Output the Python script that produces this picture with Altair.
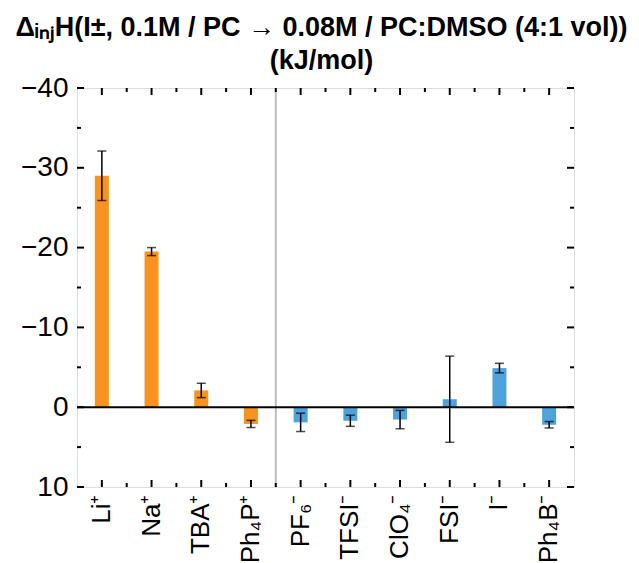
import altair as alt
import pandas as pd

ions = ["Li⁺", "Na⁺", "TBA⁺", "Ph₄P⁺", "PF₆⁻", "TFSI⁻", "ClO₄⁻", "FSI⁻", "I⁻", "Ph₄B⁻"]
kind = ["cation"] * 4 + ["anion"] * 6
values = [-29.0, -19.5, -2.1, 2.1, 1.9, 1.7, 1.55, -1.0, -4.9, 2.2]
errors = [3.1, 0.5, 0.9, 0.45, 1.15, 0.7, 1.15, 5.4, 0.6, 0.4]
y_major = [-40, -30, -20, -10, 0, 10]
y_minor = [-35, -25, -15, -5, 5]

W, H = 497, 399
FONT = "Liberation Sans"

df = pd.DataFrame({"ion": ions, "kind": kind, "value": values, "err": errors})
df["lo"] = df["value"] - df["err"]
df["hi"] = df["value"] + df["err"]
df["zero"] = 0.0

xenc = alt.X("ion:N", sort=ions,
             scale=alt.Scale(paddingInner=0, paddingOuter=0),
             axis=alt.Axis(title=None, labelAngle=270, labelFontSize=26, labelFont=FONT,
                           labelColor="black", ticks=False, domain=False, labelPadding=7))
ysc = alt.Scale(domain=[-40, 10], reverse=True, nice=False)

base = alt.Chart(df)

bars = base.mark_bar(size=14).encode(
    x=xenc,
    y=alt.Y("value:Q", scale=ysc,
            axis=alt.Axis(title=None, values=y_major, labelFontSize=28, labelFont=FONT,
                          labelColor="black", ticks=False, domain=False, grid=False,
                          labelPadding=9)),
    y2="zero:Q",
    color=alt.Color("kind:N", scale=alt.Scale(domain=["cation", "anion"],
                                              range=["#F7931E", "#4FA3DC"]), legend=None),
)

sep = alt.Chart(pd.DataFrame({"ion": [ions[4]]})).mark_rule(color="#bdbdbd", strokeWidth=2).encode(
    x=alt.X("ion:N", sort=ions, bandPosition=0),
    y=alt.value(0), y2=alt.value(H))

zero = alt.Chart(pd.DataFrame({"z": [0]})).mark_rule(color="black", strokeWidth=2).encode(
    y=alt.Y("z:Q", scale=ysc), x=alt.value(0), x2=alt.value(W))

err_rule = base.mark_rule(color="black", strokeWidth=1.5).encode(
    x=alt.X("ion:N", sort=ions), y=alt.Y("lo:Q", scale=ysc), y2="hi:Q")
cap_lo = base.mark_tick(color="black", thickness=1.5, size=9, orient="horizontal").encode(
    x=alt.X("ion:N", sort=ions), y=alt.Y("lo:Q", scale=ysc))
cap_hi = base.mark_tick(color="black", thickness=1.5, size=9, orient="horizontal").encode(
    x=alt.X("ion:N", sort=ions), y=alt.Y("hi:Q", scale=ysc))

# inward frame ticks
xt = pd.DataFrame({"ion": ions})
xm = pd.DataFrame({"ion": ions[1:]})
tick_style = dict(color="black", strokeWidth=2)
xmaj_b = alt.Chart(xt).mark_rule(**tick_style).encode(
    x=alt.X("ion:N", sort=ions), y=alt.value(H), y2=alt.value(H - 7))
xmaj_t = alt.Chart(xt).mark_rule(**tick_style).encode(
    x=alt.X("ion:N", sort=ions), y=alt.value(0), y2=alt.value(7))
xmin_b = alt.Chart(xm).mark_rule(**tick_style).encode(
    x=alt.X("ion:N", sort=ions, bandPosition=0), y=alt.value(H), y2=alt.value(H - 4))
xmin_t = alt.Chart(xm).mark_rule(**tick_style).encode(
    x=alt.X("ion:N", sort=ions, bandPosition=0), y=alt.value(0), y2=alt.value(4))

ymj = pd.DataFrame({"t": y_major})
ymn = pd.DataFrame({"t": y_minor})
ymaj_l = alt.Chart(ymj).mark_rule(**tick_style).encode(
    y=alt.Y("t:Q", scale=ysc), x=alt.value(0), x2=alt.value(7))
ymaj_r = alt.Chart(ymj).mark_rule(**tick_style).encode(
    y=alt.Y("t:Q", scale=ysc), x=alt.value(W), x2=alt.value(W - 7))
ymin_l = alt.Chart(ymn).mark_rule(**tick_style).encode(
    y=alt.Y("t:Q", scale=ysc), x=alt.value(0), x2=alt.value(4))
ymin_r = alt.Chart(ymn).mark_rule(**tick_style).encode(
    y=alt.Y("t:Q", scale=ysc), x=alt.value(W), x2=alt.value(W - 4))

chart = alt.layer(
    sep, bars, zero, err_rule, cap_lo, cap_hi,
    xmaj_b, xmaj_t, xmin_b, xmin_t, ymaj_l, ymaj_r, ymin_l, ymin_r,
).properties(
    width=W, height=H,
    title=alt.TitleParams(
        text=["ΔᵢₙⱼH(I±, 0.1M / PC → 0.08M / PC:DMSO (4:1 vol))", "(kJ/mol)"],
        font=FONT, fontSize=27, fontWeight="bold", color="black",
        anchor="middle", offset=11, lineHeight=33, dx=-4, dy=12),
    autosize=alt.AutoSizeParams(type="none"),
    padding={"left": 77, "top": 88, "right": 65, "bottom": 76},
).configure_view(stroke="black", strokeWidth=2.5
).configure(background="white")

chart.save("out.html", embed_options={"renderer": "svg", "actions": False})
